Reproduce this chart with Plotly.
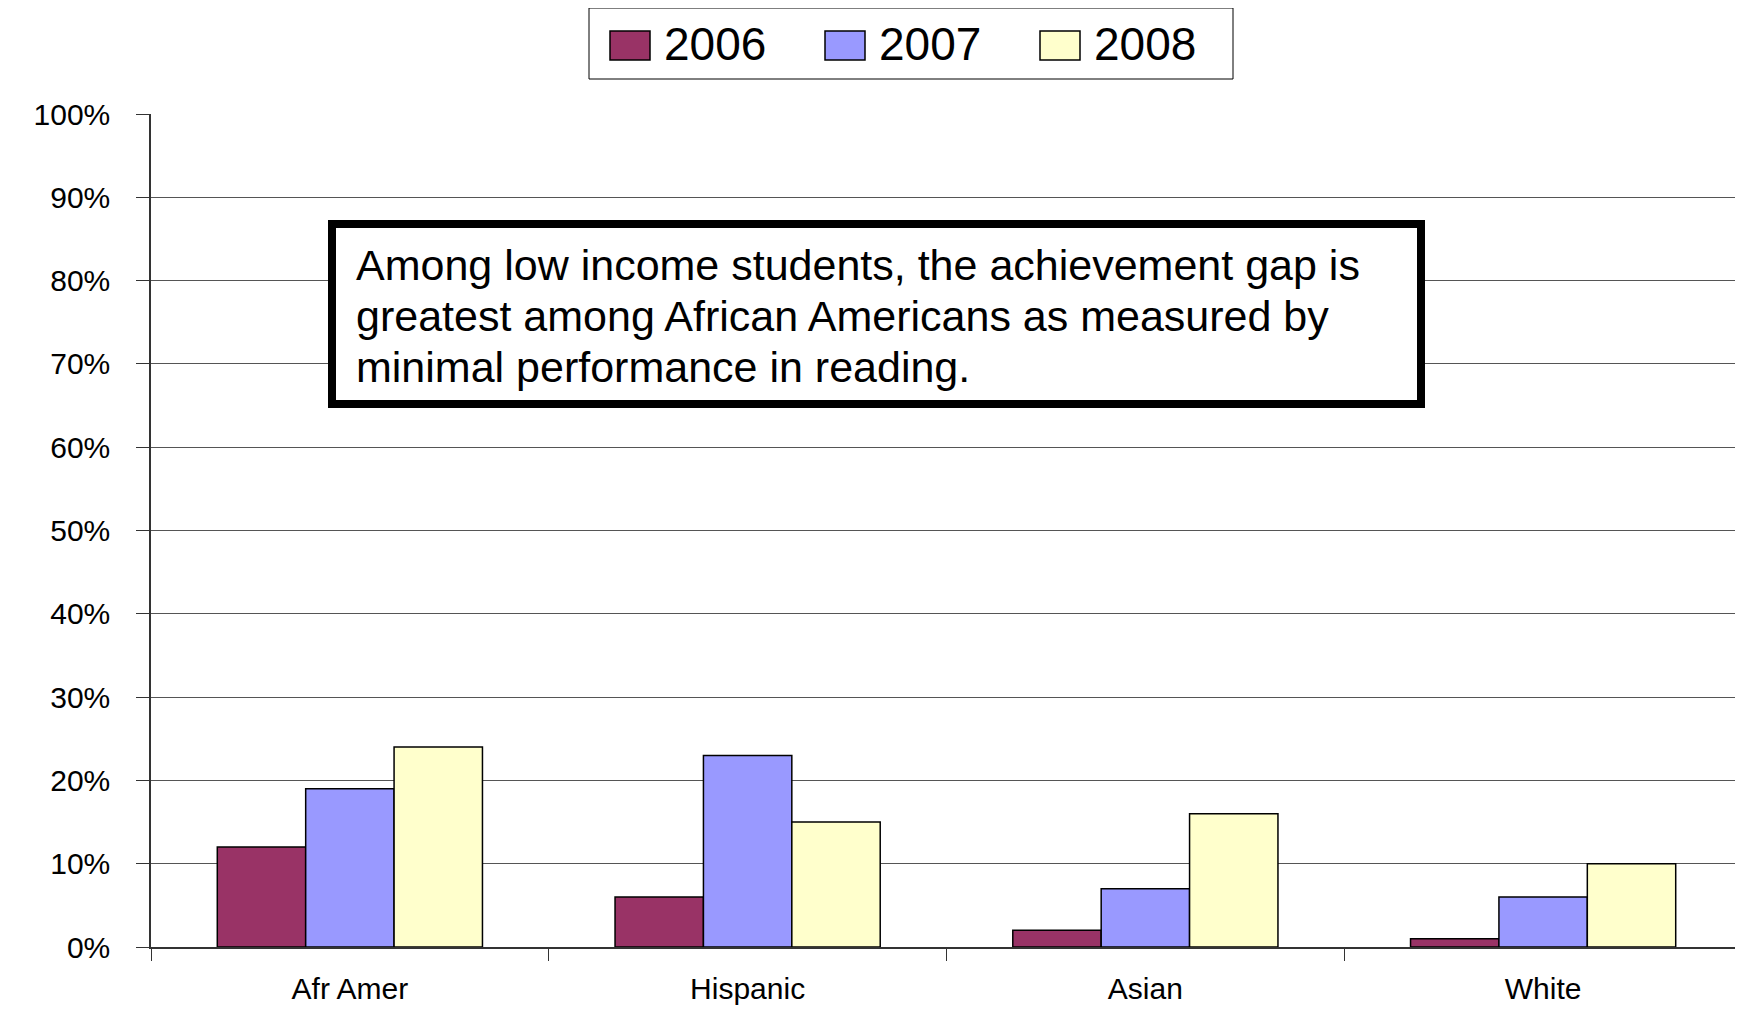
import plotly.graph_objects as go

categories = ["Afr Amer", "Hispanic", "Asian", "White"]
years = ["2006", "2007", "2008"]
pct_2006 = [0.12, 0.06, 0.02, 0.01]
pct_2007 = [0.19, 0.23, 0.07, 0.06]
pct_2008 = [0.24, 0.15, 0.16, 0.10]
colors = ["#993366", "#9999FF", "#FFFFCC"]
note_lines = ["Among low income students, the achievement gap is",
              "greatest among African Americans as measured by",
              "minimal performance in reading."]

OFF = 8  # page body margin
W, H = 1743 - OFF, 1010 - OFF
L, R, T, B = 151 - OFF, 1, 114 - OFF, 63
FONT = "Liberation Sans, Arial, sans-serif"


def px(x):
    return (x - OFF - L) / (W - L - R)


def py(y):
    return (H - B - (y - OFF)) / (H - T - B)


fig = go.Figure()
for name, vals, col in zip(years, [pct_2006, pct_2007, pct_2008], colors):
    fig.add_trace(go.Bar(x=categories, y=vals, name=name, showlegend=False,
                         marker=dict(color=col, line=dict(color="black", width=1.5))))

shapes = []
annotations = []

# hand-drawn legend, the boxes in the reference are large
shapes.append(dict(type="rect", xref="paper", yref="paper",
                   x0=px(589), x1=px(1233), y0=py(79), y1=py(8),
                   line=dict(color="black", width=1), fillcolor="white"))
for i, (name, col) in enumerate(zip(years, colors)):
    x0 = 610 + 215 * i
    shapes.append(dict(type="rect", xref="paper", yref="paper",
                       x0=px(x0), x1=px(x0 + 40), y0=py(60), y1=py(31),
                       line=dict(color="black", width=1.5), fillcolor=col))
    annotations.append(dict(xref="paper", yref="paper", x=px(x0 + 52), y=py(44),
                            xanchor="left", yanchor="middle", showarrow=False,
                            text=name, font=dict(family=FONT, size=46, color="black")))

# text box
shapes.append(dict(type="rect", xref="paper", yref="paper",
                   x0=px(332), x1=px(1421), y0=py(404), y1=py(224),
                   line=dict(color="black", width=8), fillcolor="white"))
for i, line in enumerate(note_lines):
    annotations.append(dict(xref="paper", yref="paper", x=px(354), y=py(265 + 51 * i),
                            xanchor="left", yanchor="middle", align="left",
                            showarrow=False, text=line,
                            font=dict(family=FONT, size=43, color="black")))

fig.update_layout(
    width=W, height=H,
    margin=dict(l=L, r=R, t=T, b=B, pad=0, autoexpand=False),
    barmode="group", bargap=1 / 3, bargroupgap=0,
    plot_bgcolor="white", paper_bgcolor="white",
    font=dict(family=FONT, color="black"),
    shapes=shapes, annotations=annotations,
)
fig.update_xaxes(
    type="category", tickson="boundaries", ticks="outside", ticklen=12,
    tickcolor="#333333", showline=True, linecolor="#333333", linewidth=1.5,
    tickfont=dict(size=30, color="black"), ticklabelstandoff=14,
    showgrid=False, automargin=False,
)
fig.update_yaxes(
    range=[0, 1], dtick=0.1, tickformat=".0%", ticks="outside", ticklen=13,
    tickcolor="#333333", showline=True, linecolor="#333333", linewidth=1.5,
    gridcolor="#555555", gridwidth=1, zeroline=False,
    tickfont=dict(size=30, color="black"), ticklabelstandoff=20, automargin=False,
)

fig.write_html("out.html")
